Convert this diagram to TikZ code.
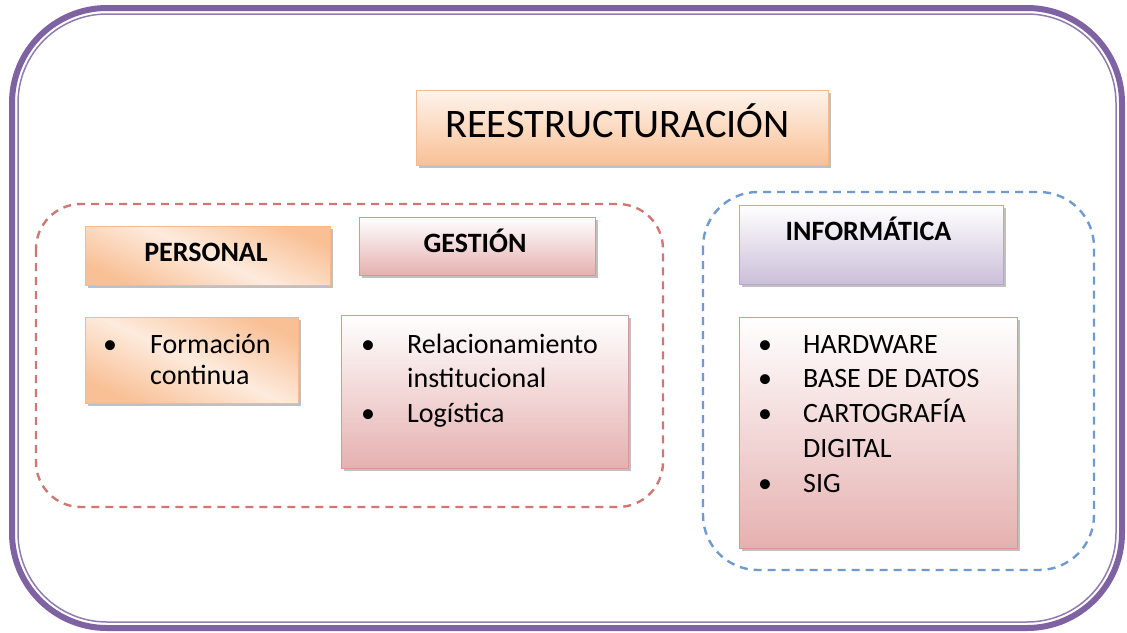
\documentclass[tikz,border=0pt]{standalone}
\usepackage{fontspec}
\setmainfont{Carlito}
\usepackage{tikz}
\usetikzlibrary{shadows}

\definecolor{framepurple}{HTML}{7E62A1}
\definecolor{dashred}{HTML}{D07774}
\definecolor{dashblue}{HTML}{6E9AD0}
\definecolor{orgline}{HTML}{F7B98C}
\definecolor{orgdark}{HTML}{F9C096}
\definecolor{orglight}{HTML}{FDEBDD}
\definecolor{orgtop}{HTML}{FEF4EC}
\definecolor{pinkline}{HTML}{DA9694}
\definecolor{pinkbot}{HTML}{E5B1B0}
\definecolor{lilaline}{HTML}{B6A6CC}
\definecolor{lilabot}{HTML}{CBBFD9}

\newcommand{\itm}{\makebox[0pt]{\textbullet}}

\begin{document}
\begin{tikzpicture}[
  x=1pt, y=-1pt,
  shadowed/.style={drop shadow={shadow xshift=3pt, shadow yshift=-3pt,
    opacity=.45, fill=black!55}},
  titlebox/.style={shadowed, draw=orgline, line width=1pt,
    top color=orgtop, bottom color=orgdark},
  orgbox/.style={shadowed, draw=orgline, line width=1pt,
    top color=orgdark, bottom color=orgdark, middle color=orglight,
    shading angle=-25},
  pinkbox/.style={shadowed, draw=pinkline, line width=1pt,
    top color=white, bottom color=pinkbot},
  lilabox/.style={shadowed, draw=lilaline, line width=1pt,
    top color=white, bottom color=lilabot},
  head/.style={inner sep=0pt, anchor=base, font=\fontsize{28}{32}\selectfont\bfseries},
  listtext/.style={inner sep=0pt, anchor=base west},
  groupline/.style={line width=2.4pt, dash pattern=on 8pt off 6pt, rounded corners=#1},
]
  \useasboundingbox (0,0) rectangle (1127,632);

  % Outer frame (double purple line)
  \draw[framepurple, line width=6pt, rounded corners=95] (12,8) rectangle (1122,628);
  \draw[framepurple!85, line width=1.5pt, rounded corners=89] (18,14) rectangle (1116,622);

  % Groups
  \draw[dashred, groupline=45] (36,204) rectangle (663,507);
  \draw[dashblue, groupline=55] (703,192) rectangle (1094,570);

  % Top: title
  \node[titlebox, minimum width=412, minimum height=75] (tbox) at (622,127.5) {};
  \node[inner sep=0pt, anchor=base, font=\fontsize{40.5}{46}\selectfont] (title)
    at (617.5,137) {REESTRUCTURACIÓN};

  % Left group: PERSONAL
  \node[orgbox, minimum width=245, minimum height=59] (pbox) at (207.5,255.5) {};
  \node[head] (personal) at (206,261) {PERSONAL};
  \node[orgbox, minimum width=213, minimum height=86] (fbox) at (191.5,360) {};
  \node[listtext, font=\fontsize{28}{31}\selectfont] (flist) at (110,353)
    {\begin{tabular}[t]{@{}p{40pt}@{}l@{}}
      \itm & Formación\\
           & continua
    \end{tabular}};

  % Left group: GESTION
  \node[pinkbox, minimum width=236, minimum height=58] (gbox) at (477,246) {};
  \node[head] (gestion) at (475,252) {GESTIÓN};
  \node[pinkbox, minimum width=287, minimum height=153] (rbox) at (484.5,391.5) {};
  \node[listtext, font=\fontsize{28}{34.5}\selectfont] (rlist) at (368,353)
    {\begin{tabular}[t]{@{}p{39pt}@{}l@{}}
      \itm & Relacionamiento\\
           & institucional\\
      \itm & Logística
    \end{tabular}};

  % Right group: INFORMATICA
  \node[lilabox, minimum width=264, minimum height=79] (ibox) at (871,244.5) {};
  \node[head] (informatica) at (868.5,240) {INFORMÁTICA};
  \node[pinkbox, minimum width=278, minimum height=231] (hbox) at (878,432.5) {};
  \node[listtext, font=\fontsize{28}{34.75}\selectfont] (hlist) at (765,353)
    {\begin{tabular}[t]{@{}p{38pt}@{}l@{}}
      \itm & HARDWARE\\
      \itm & BASE DE DATOS\\
      \itm & CARTOGRAFÍA\\
           & DIGITAL\\
      \itm & SIG
    \end{tabular}};
\end{tikzpicture}
\end{document}
